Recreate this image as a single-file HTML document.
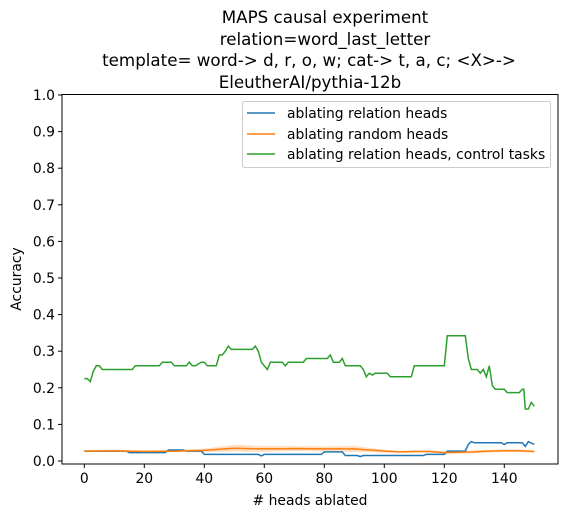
<!DOCTYPE html>
<html><head><meta charset="utf-8"><style>
body{margin:0;background:#fff;}
svg{font-family:"DejaVu Sans","Liberation Sans",sans-serif;}
</style></head><body>
<svg id="chart" width="567" height="517" viewBox="0 0 567 517">
<g font-size="16.7" text-anchor="middle" fill="#000">
<text x="325" y="23">MAPS causal experiment</text>
<text x="325" y="45">relation=word_last_letter</text>
<text x="309" y="66">template= word-&gt; d, r, o, w; cat-&gt; t, a, c; &lt;X&gt;-&gt;</text>
<text x="310" y="88">EleutherAI/pythia-12b</text>
</g>
<g id="grid"></g>
<g id="marks"></g>
<rect x="62" y="94.5" width="496" height="369.5" fill="none" stroke="#000" stroke-width="1"/>
<text x="310" y="505" font-size="13.9" text-anchor="middle"># heads ablated</text>
<text transform="translate(21,279) rotate(-90)" font-size="13.9" text-anchor="middle">Accuracy</text>
<g>
<rect x="242.5" y="101.5" width="308" height="66" rx="2" fill="#fff" stroke="#ccc"/>
<line x1="247" y1="113" x2="275" y2="113" stroke="#1f77b4" stroke-width="1.5"/>
<text x="287" y="118" font-size="13.9">ablating relation heads</text>
<line x1="247" y1="134" x2="275" y2="134" stroke="#ff7f0e" stroke-width="1.5"/>
<text x="287" y="139" font-size="13.9">ablating random heads</text>
<line x1="247" y1="154" x2="275" y2="154" stroke="#2ca02c" stroke-width="1.5"/>
<text x="287" y="159" font-size="13.9">ablating relation heads, control tasks</text>
</g>
</svg>
<script>
const xTicks=[0,20,40,60,80,100,120,140];
const yTicks=[0.0,0.1,0.2,0.3,0.4,0.5,0.6,0.7,0.8,0.9,1.0];
const greenX=[0,1,2,3,4,5,6,16,17,25,26,29,30,34,35,36,37,39,40,41,44,45,46,47,48,49,56,57,58,59,60,61,62,66,67,68,73,74,81,82,83,85,86,87,92,93,94,95,96,97,98,101,102,109,110,120,121,127,128,129,131,132,133,134,135,136,137,140,141,145,146,146.5,147,148,149,150];
const greenY=[0.225,0.225,0.217,0.245,0.26,0.26,0.25,0.25,0.26,0.26,0.27,0.27,0.26,0.26,0.27,0.26,0.26,0.27,0.27,0.26,0.26,0.29,0.29,0.30,0.314,0.305,0.305,0.314,0.30,0.27,0.26,0.25,0.27,0.27,0.26,0.27,0.27,0.28,0.28,0.29,0.27,0.27,0.28,0.26,0.26,0.25,0.23,0.24,0.235,0.24,0.24,0.24,0.23,0.23,0.26,0.26,0.342,0.342,0.28,0.25,0.25,0.24,0.25,0.23,0.26,0.206,0.196,0.196,0.187,0.187,0.196,0.196,0.142,0.142,0.16,0.15];
const blueX=[0,14,15,27,28,33,34,39,40,58,59,60,79,80,86,87,91,92,93,101,102,113,114,120,121,127,128,129,130,139,140,141,146,147,148,150];
const blueY=[0.027,0.027,0.023,0.023,0.03,0.03,0.027,0.027,0.018,0.018,0.014,0.018,0.018,0.025,0.025,0.015,0.015,0.012,0.015,0.015,0.015,0.015,0.018,0.018,0.027,0.027,0.045,0.053,0.05,0.05,0.045,0.05,0.05,0.04,0.053,0.045];
const orangeX=[0,10,20,30,40,45,50,55,60,70,80,90,95,100,105,110,115,120,125,130,135,140,145,150];
const orangeY=[0.027,0.028,0.026,0.027,0.029,0.032,0.035,0.034,0.033,0.034,0.033,0.033,0.030,0.027,0.025,0.026,0.026,0.023,0.024,0.025,0.027,0.028,0.028,0.026];
const orangeErr=[0.003,0.003,0.003,0.003,0.005,0.007,0.009,0.009,0.008,0.007,0.007,0.008,0.006,0.004,0.003,0.003,0.003,0.003,0.004,0.004,0.004,0.004,0.004,0.003];
const NS='http://www.w3.org/2000/svg';
function sx(v){return 84.3+v*3.0;}
function sy(v){return 461-v*366;}
const grid=document.getElementById('grid'),marks=document.getElementById('marks');
function mk(tag,attrs,parent){const e=document.createElementNS(NS,tag);for(const k in attrs)e.setAttribute(k,attrs[k]);parent.appendChild(e);return e;}
xTicks.forEach(t=>{
 const l=mk('line',{x1:sx(t),x2:sx(t),y1:464,y2:468,stroke:'#000'},grid);
 
 
 const tx=mk('text',{x:sx(t),y:483,'font-size':13.9,'text-anchor':'middle'},grid);tx.textContent=t;
 
 
});
yTicks.forEach(t=>{
 const l=mk('line',{x1:58,x2:62,y1:sy(t),y2:sy(t),stroke:'#000'},grid);
 
 
 const tx=mk('text',{x:55,y:sy(t)+5,'font-size':13.9,'text-anchor':'end'},grid);tx.textContent=t.toFixed(1);
 
 
});
function pts(xs,ys){return xs.map((x,i)=>sx(x).toFixed(1)+','+sy(ys[i]).toFixed(1)).join(' ');}
const up=orangeX.map((x,i)=>sx(x).toFixed(1)+','+sy(orangeY[i]+orangeErr[i]).toFixed(1));
const dn=orangeX.map((x,i)=>sx(x).toFixed(1)+','+sy(orangeY[i]-orangeErr[i]).toFixed(1)).reverse();
const band=mk('polygon',{points:up.concat(dn).join(' '),fill:'#ff7f0e','fill-opacity':0.25,stroke:'none'},marks);


const b=mk('polyline',{points:pts(blueX,blueY),fill:'none',stroke:'#1f77b4','stroke-width':1.5},marks);


const o=mk('polyline',{points:pts(orangeX,orangeY),fill:'none',stroke:'#ff7f0e','stroke-width':1.5},marks);


const g=mk('polyline',{points:pts(greenX,greenY),fill:'none',stroke:'#2ca02c','stroke-width':1.5},marks);


</script>
</body></html>
